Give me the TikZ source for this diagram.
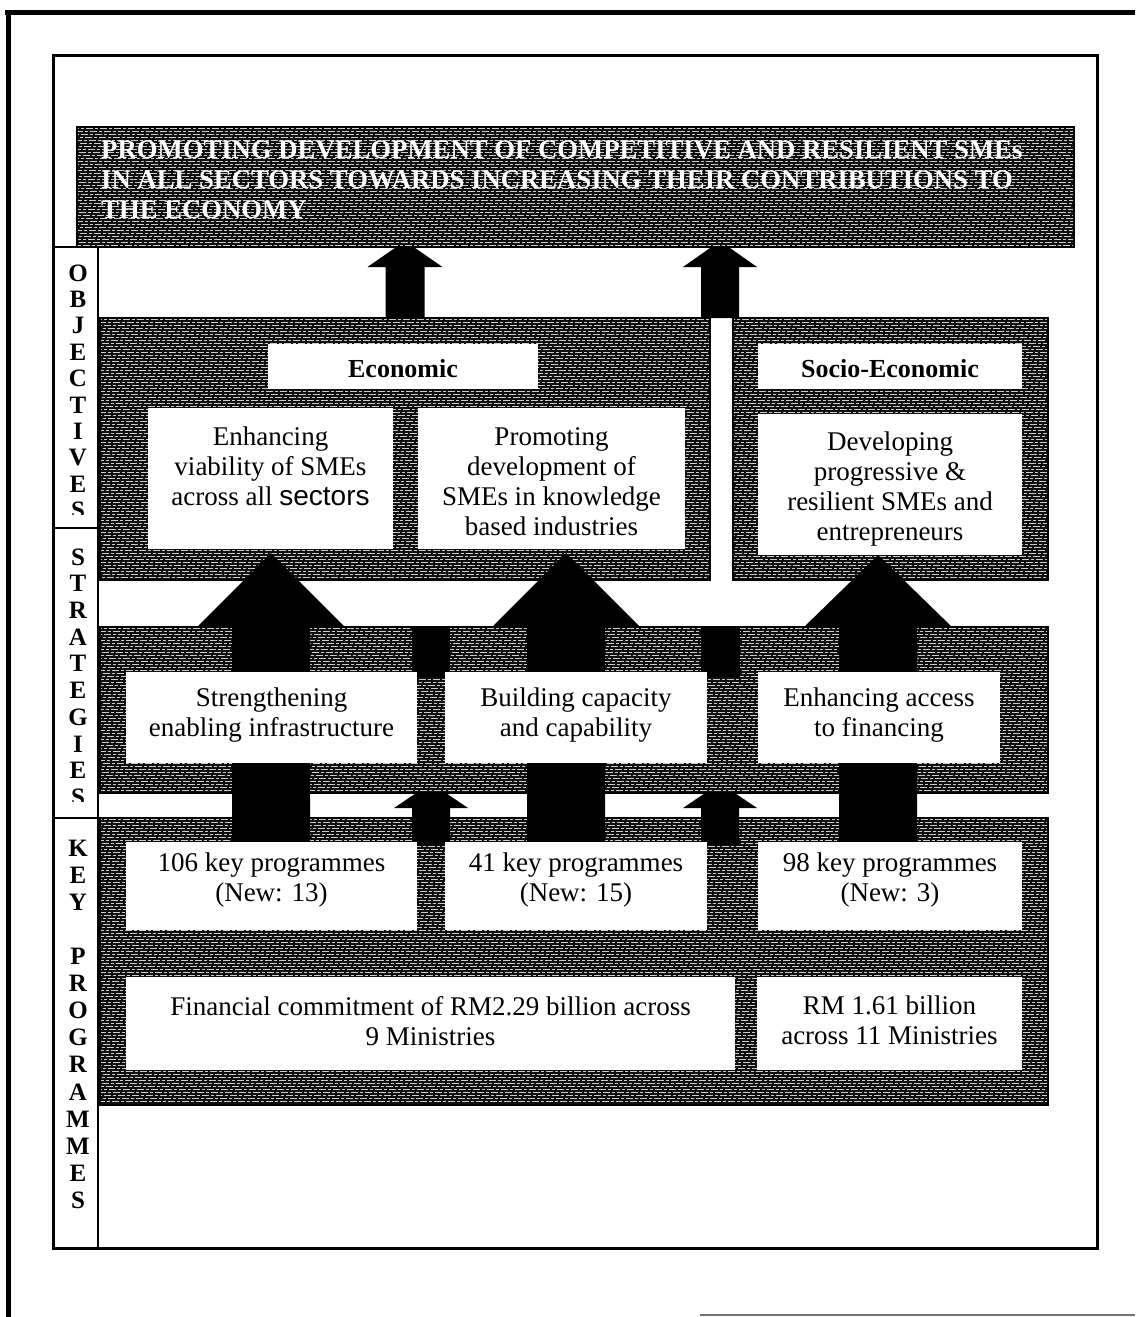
\documentclass[tikz,border=0pt]{standalone}
\usepackage{fontspec}
\setmainfont{Liberation Serif}
\newfontfamily\sansfam{Liberation Sans}
\usetikzlibrary{calc}
% upward block arrow: centre x, apex y, head base y, tail y, head half width, shaft half width
\newcommand\upblock[6]{%
  \fill (#1,#2) -- ({#1+#5},#3) -- ({#1+#6},#3) -- ({#1+#6},#4)
        -- ({#1-#6},#4) -- ({#1-#6},#3) -- ({#1-#5},#3) -- cycle;}
% white box: name, left, top, width, height
\newcommand\wbox[5]{\node[whitebox, minimum width=#4pt, minimum height=#5pt] (#1) at (#2,#3) {};}
% screened panel: name, left, top, width, height
\newcommand\pnl[5]{%
  \node[panel, minimum width=#4pt, minimum height=#5pt] (#1) at (#2,#3) {};
  \begin{scope}
    \clip (#1.north west) rectangle (#1.south east);
    \foreach \yy [evaluate=\yy as \ph using {mod(\yy*37.7,13)}] in {1.5,4.5,...,#5}
      \draw[white!80!black, line width=0.7pt, dash pattern=on 7pt off 2pt on 3pt off 2pt, dash phase=\ph pt]
        ($(#1.north west)+(0,\yy)$) -- ++(#4,0);
  \end{scope}
  \draw[line width=2.2pt] (#1.north west) rectangle (#1.south east);}
\begin{document}
\begin{tikzpicture}[x=1pt,y=-1pt,
  panel/.style={fill=black!94, draw=none, inner sep=0pt, outer sep=0pt, anchor=north west},
  whitebox/.style={fill=white, draw=none, inner sep=0pt, outer sep=0pt, anchor=north west},
  btxt/.style={font=\fontsize{27}{30}\selectfont, align=center, inner sep=0pt, anchor=north},
  lbltxt/.style={font=\bfseries\fontsize{26}{30}\selectfont, inner sep=0pt, anchor=north},
  ttltxt/.style={font=\bfseries\fontsize{26.7}{30}\selectfont, text=white, align=left, inner sep=0pt, anchor=north west},
  colltr/.style={font=\bfseries\fontsize{25}{25}\selectfont, inner sep=0pt},
  rule/.style={line width=2.5pt}
]
\useasboundingbox (0,0) rectangle (1135,1317);
\fill[white] (0,0) rectangle (1135,1317);

% page edges
\draw[line width=5pt] (5,12) -- (1135,12);
\draw[line width=5pt] (8,10) -- (8,1317);
\draw[line width=2pt, black!55] (700,1315) -- (1135,1315);

% inner frame
\draw[line width=3pt] (53,55) rectangle (1097,1248);

% arrows into the goal band
\upblock{405}{241}{267}{318}{37.5}{19.5}
\upblock{720}{241}{267}{318}{37}{19}

% goal band
\pnl{band}{77}{127}{997}{120}
\node[ttltxt] (title) at (101,141) {PROMOTING DEVELOPMENT OF COMPETITIVE AND RESILIENT SMEs\\IN ALL SECTORS TOWARDS INCREASING THEIR CONTRIBUTIONS TO\\THE ECONOMY};

% objective panels
\pnl{econ}{100}{318}{610}{262}
\pnl{socio}{733}{318}{315}{262}

% key programme panel
\pnl{keyp}{100}{818}{948}{287}

% small arrows from the programmes
\upblock{431}{783}{808}{845}{37}{19}
\upblock{720}{783}{808}{845}{37}{19}

% strategy panel
\pnl{strat}{100}{627}{948}{166}
\fill (412,627) rectangle (450,677);
\fill (701,627) rectangle (740,677);

% large arrows from programmes through strategies to objectives
\upblock{271}{553}{627}{845}{74}{39}
\upblock{566}{553}{627}{845}{74}{39}
\upblock{878}{555}{627}{845}{74}{39}

% boxes
\wbox{econlbl}{268}{344}{270}{45}
\wbox{sociolbl}{758}{344}{264}{45}
\wbox{ob1}{148}{408}{245}{141}
\wbox{ob2}{418}{408}{267}{141}
\wbox{ob3}{758}{414}{264}{141}
\wbox{sb1}{126}{672}{291}{91}
\wbox{sb2}{445}{672}{262}{91}
\wbox{sb3}{758}{672}{242}{91}
\wbox{kb1}{126}{842}{291}{88}
\wbox{kb2}{445}{842}{262}{88}
\wbox{kb3}{758}{842}{264}{88}
\wbox{fb1}{126}{977}{609}{93}
\wbox{fb2}{757}{977}{265}{93}

% texts
\node[lbltxt] (econt) at ($(econlbl.north)+(0,15)$) {Economic};
\node[lbltxt] (sociot) at ($(sociolbl.north)+(0,15)$) {Socio-Economic};
\node[btxt] (ob1t) at ($(ob1.north)+(0,19)$) {Enhancing\\viability of SMEs\\across all {\sansfam\fontsize{28}{30}\selectfont sectors}};
\node[btxt] (ob2t) at ($(ob2.north)+(0,19)$) {Promoting\\development of\\SMEs in knowledge\\based industries};
\node[btxt] (ob3t) at ($(ob3.north)+(0,18)$) {Developing\\progressive \&\\resilient SMEs and\\entrepreneurs};
\node[btxt] (sb1t) at ($(sb1.north)+(0,16)$) {Strengthening\\enabling infrastructure};
\node[btxt] (sb2t) at ($(sb2.north)+(0,16)$) {Building capacity\\and capability};
\node[btxt] (sb3t) at ($(sb3.north)+(0,16)$) {Enhancing access\\to financing};
\node[btxt] (kb1t) at ($(kb1.north)+(0,11)$) {106 key programmes\\(New: 13)};
\node[btxt] (kb2t) at ($(kb2.north)+(0,11)$) {41 key programmes\\(New: 15)};
\node[btxt] (kb3t) at ($(kb3.north)+(0,11)$) {98 key programmes\\(New: 3)};
\node[btxt] (fb1t) at ($(fb1.north)+(0,19)$) {Financial commitment of RM2.29 billion across\\9 Ministries};
\node[btxt] (fb2t) at ($(fb2.north)+(0,19)$) {RM 1.61 billion\\across 11 Ministries};

% side column
\draw[rule] (98,247) -- (98,1248);
\draw[rule] (53,247) -- (77,247);
\draw[rule] (53,528) -- (98,528);
\draw[rule] (53,818) -- (98,818);
\begin{scope}
  \clip (53,249) rectangle (97,514);
  \foreach \l [count=\i from 0] in {O,B,J,E,C,T,I,V,E,S}
    \node[colltr] (obj\i) at (78,{273+26.4*\i}) {\l};
\end{scope}
\begin{scope}
  \clip (53,530) rectangle (97,801);
  \foreach \l [count=\i from 0] in {S,T,R,A,T,E,G,I,E,S}
    \node[colltr] (str\i) at (78,{557+26.7*\i}) {\l};
\end{scope}
\foreach \l/\k in {K/0,E/1,Y/2,P/4,R/5,O/6,G/7,R/8,A/9,M/10,M/11,E/12,S/13}
  \node[colltr] (kp\k) at (78,{848+27.1*\k}) {\l};
\end{tikzpicture}
\end{document}
